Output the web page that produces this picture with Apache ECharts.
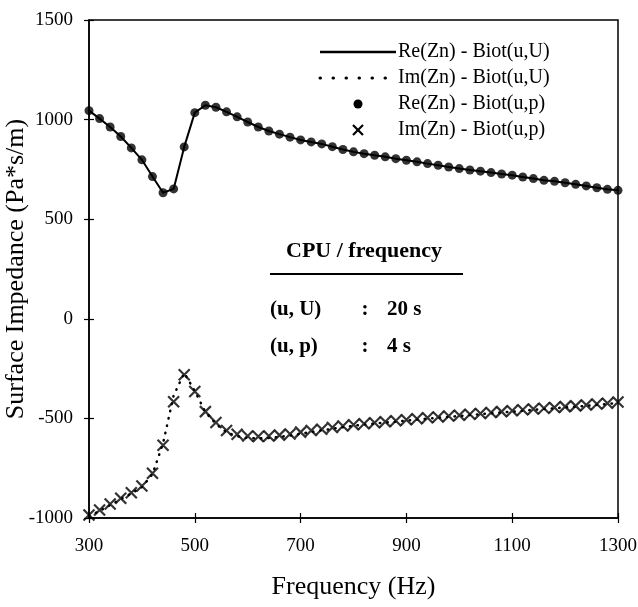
<!DOCTYPE html>
<html>
<head>
<meta charset="utf-8">
<script src="https://cdn.jsdelivr.net/npm/echarts@6/dist/echarts.min.js"></script>
<style>
  html, body { margin: 0; padding: 0; background: #fff; }
  #chart { width: 638px; height: 607px; }
</style>
</head>
<body>
<div id="chart"></div>
<script>
// frequencies (Hz)
const freq = [300, 320, 340, 360, 380, 400, 420, 440, 460, 480,
  500, 520, 540, 560, 580, 600, 620, 640, 660, 680,
  700, 720, 740, 760, 780, 800, 820, 840, 860, 880,
  900, 920, 940, 960, 980, 1000, 1020, 1040, 1060, 1080,
  1100, 1120, 1140, 1160, 1180, 1200, 1220, 1240, 1260, 1280, 1300];

// Re(Zn) - Biot(u,p)  (dots)
const reUp = [1045, 1005, 963, 915, 858, 798, 714, 633, 652, 863,
  1035, 1072, 1062, 1039, 1014, 988, 963, 943, 927, 912,
  898, 888, 878, 864, 850, 838, 829, 821, 813, 804,
  796, 788, 779, 771, 762, 754, 747, 741, 734, 727,
  721, 712, 704, 695, 690, 683, 675, 667, 658, 650, 645];

// Re(Zn) - Biot(u,U)  (solid line)
const reUU = [1045, 1005, 963, 915, 858, 798, 714, 633, 652, 863,
  1035, 1072, 1062, 1039, 1014, 988, 963, 943, 927, 912,
  898, 888, 878, 864, 850, 838, 829, 821, 813, 804,
  796, 788, 779, 771, 762, 754, 747, 741, 734, 727,
  721, 712, 704, 695, 690, 683, 675, 667, 658, 650, 645];

// Im(Zn) - Biot(u,p)  (crosses)
const imUp = [-985, -960, -930, -901, -873, -839, -775, -635, -416, -281,
  -365, -466, -521, -561, -580, -588, -591, -588, -584, -578,
  -569, -561, -554, -546, -538, -532, -527, -522, -517, -512,
  -507, -502, -497, -493, -488, -484, -479, -475, -470, -466,
  -462, -457, -453, -449, -445, -441, -437, -433, -428, -424, -418];

// Im(Zn) - Biot(u,U)  (dotted line)
const imUU = [-990, -965, -935, -905, -877, -845, -780, -625, -385, -272,
  -362, -468, -528, -570, -590, -598, -600, -598, -593, -586,
  -577, -568, -560, -552, -544, -537, -531, -526, -521, -516,
  -511, -506, -501, -497, -492, -488, -483, -479, -474, -470,
  -466, -461, -457, -453, -449, -445, -441, -437, -432, -428, -422];

const xTicks = { min: 300, max: 1300, interval: 200 };
const yTicks = { min: -1000, max: 1500, interval: 500 };

const serif = 'Liberation Serif';

function pairs(xs, ys) {
  return xs.map((x, i) => [x, ys[i]]);
}

const chart = echarts.init(document.getElementById('chart'));

const baseX = {
  type: 'value',
  min: xTicks.min,
  max: xTicks.max,
  interval: xTicks.interval,
  splitLine: { show: false },
};
const baseY = {
  type: 'value',
  min: yTicks.min,
  max: yTicks.max,
  interval: yTicks.interval,
  splitLine: { show: false },
};

const legendRows = [
  { y: 52, text: 'Re(Zn) - Biot(u,U)' },
  { y: 78, text: 'Im(Zn) - Biot(u,U)' },
  { y: 104, text: 'Re(Zn) - Biot(u,p)' },
  { y: 130, text: 'Im(Zn) - Biot(u,p)' },
];

const graphics = [];
legendRows.forEach(r => {
  graphics.push({
    type: 'text', x: 398, y: r.y,
    style: { text: r.text, font: '20px "Liberation Serif"', fill: '#000', verticalAlign: 'middle' }
  });
});
const cpuFont = 'bold 21px "Liberation Serif"';
graphics.push(
  { type: 'line', shape: { x1: 320, y1: 52, x2: 396, y2: 52 }, style: { stroke: '#000', lineWidth: 2.5 } },
  { type: 'line', shape: { x1: 320, y1: 78, x2: 396, y2: 78 }, style: { stroke: '#000', lineWidth: 3, lineDash: [0.5, 12.5], lineCap: 'round' } },
  { type: 'circle', shape: { cx: 358, cy: 104, r: 4.5 }, style: { fill: '#000' } },
  { type: 'line', shape: { x1: 353, y1: 125, x2: 363, y2: 135 }, style: { stroke: '#000', lineWidth: 2.2 } },
  { type: 'line', shape: { x1: 363, y1: 125, x2: 353, y2: 135 }, style: { stroke: '#000', lineWidth: 2.2 } },
  // CPU box
  { type: 'text', x: 364, y: 251, style: { text: 'CPU / frequency', font: 'bold 22px "Liberation Serif"', fill: '#000', align: 'center', verticalAlign: 'middle' } },
  { type: 'line', shape: { x1: 270, y1: 274, x2: 463, y2: 274 }, style: { stroke: '#000', lineWidth: 2 } },
  { type: 'text', x: 270, y: 310, style: { text: '(u, U)', font: cpuFont, fill: '#000', verticalAlign: 'middle' } },
  { type: 'text', x: 365, y: 310, style: { text: ':', font: cpuFont, fill: '#000', align: 'center', verticalAlign: 'middle' } },
  { type: 'text', x: 387, y: 310, style: { text: '20 s', font: cpuFont, fill: '#000', verticalAlign: 'middle' } },
  { type: 'text', x: 270, y: 347, style: { text: '(u, p)', font: cpuFont, fill: '#000', verticalAlign: 'middle' } },
  { type: 'text', x: 365, y: 347, style: { text: ':', font: cpuFont, fill: '#000', align: 'center', verticalAlign: 'middle' } },
  { type: 'text', x: 387, y: 347, style: { text: '4 s', font: cpuFont, fill: '#000', verticalAlign: 'middle' } }
);

const option = {
  animation: false,
  backgroundColor: '#fff',
  grid: {
    left: 89, right: 20, top: 20, bottom: 89,
    containLabel: false,
    outerBoundsMode: 'none',
    show: true, borderColor: '#000', borderWidth: 1.5
  },
  xAxis: [
    Object.assign({}, baseX, {
      position: 'bottom',
      name: 'Frequency (Hz)',
      nameLocation: 'middle',
      nameGap: 56,
      nameMoveOverlap: false,
      nameTextStyle: { fontFamily: serif, fontSize: 26, color: '#000' },
      axisLine: { onZero: false, lineStyle: { color: '#000', width: 1.5 } },
      axisTick: { inside: false, length: 5, lineStyle: { color: '#000', width: 1.2 } },
      axisLabel: { margin: 19, fontFamily: serif, fontSize: 19, color: '#000', formatter: v => String(v) }
    }),
    Object.assign({}, baseX, {
      position: 'bottom',
      axisLine: { show: false, onZero: false },
      axisTick: { inside: true, length: 5, lineStyle: { color: '#000', width: 1.2 } },
      axisLabel: { show: false }
    })
  ],
  yAxis: [
    Object.assign({}, baseY, {
      position: 'left',
      name: 'Surface Impedance (Pa*s/m)',
      nameLocation: 'middle',
      nameGap: 60,
      nameMoveOverlap: false,
      nameTextStyle: { fontFamily: serif, fontSize: 26, color: '#000' },
      axisLine: { onZero: false, lineStyle: { color: '#000', width: 1.5 } },
      axisTick: { inside: false, length: 5, lineStyle: { color: '#000', width: 1.2 } },
      axisLabel: { margin: 16, fontFamily: serif, fontSize: 19, color: '#000', formatter: v => String(v) }
    }),
    Object.assign({}, baseY, {
      position: 'left',
      axisLine: { show: false, onZero: false },
      axisTick: { inside: true, length: 5, lineStyle: { color: '#000', width: 1.2 } },
      axisLabel: { show: false }
    })
  ],
  series: [
    {
      name: 'Re(Zn) - Biot(u,U)',
      type: 'line',
      data: pairs(freq, reUU),
      showSymbol: false,
      symbol: 'none',
      lineStyle: { color: '#000', width: 2 },
      z: 2
    },
    {
      name: 'Im(Zn) - Biot(u,U)',
      type: 'line',
      data: pairs(freq, imUU),
      showSymbol: false,
      symbol: 'none',
      lineStyle: { color: '#000', width: 2.5, type: [0.5, 7], cap: 'round' },
      z: 2
    },
    {
      name: 'Re(Zn) - Biot(u,p)',
      type: 'scatter',
      data: pairs(freq, reUp),
      symbol: 'circle',
      symbolSize: 9,
      itemStyle: { color: '#000' },
      z: 3
    },
    {
      name: 'Im(Zn) - Biot(u,p)',
      type: 'scatter',
      data: pairs(freq, imUp),
      symbol: 'path://M0,0L10,10M10,0L0,10',
      symbolSize: 11,
      itemStyle: { color: 'rgba(0,0,0,0)', borderColor: '#000', borderWidth: 2.2 },
      z: 3
    }
  ],
  graphic: graphics
};

chart.setOption(option);
</script>
</body>
</html>
